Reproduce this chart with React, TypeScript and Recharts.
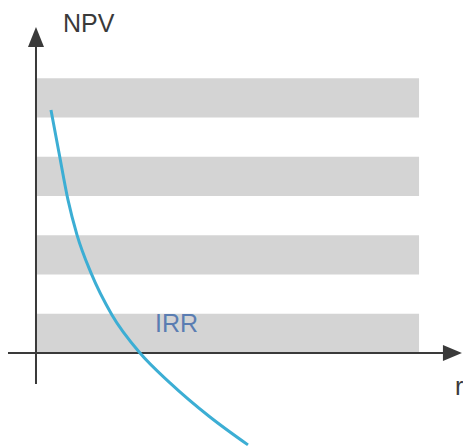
import { LineChart, Line, XAxis, YAxis, ReferenceArea, ReferenceLine, ReferenceDot } from "recharts";

// discount rate r (%) and NPV
const rates = [1.4, 2.15, 2.99, 3.83, 5.14, 7.1, 9.72, 12.52, 16.26, 19.81];
const npvs = [6.19, 5.1, 3.9, 3.01, 2.04, 0.97, 0, -0.76, -1.63, -2.34];

// grey bands behind the curve
const bands = [
  [0, 1],
  [2, 3],
  [4, 5],
  [6, 7],
];

const data = rates.map((r, i) => ({ r, npv: npvs[i] }));

const FONT = "'Liberation Sans', Arial, sans-serif";

const upArrow = ({ cx, cy }: any) => (
  <polygon points={`${cx},${cy} ${cx - 8},${cy + 20} ${cx + 8},${cy + 20}`} fill="#3a3a3a" />
);

const rightArrow = ({ cx, cy }: any) => (
  <polygon points={`${cx},${cy} ${cx - 19},${cy - 8} ${cx - 19},${cy + 8}`} fill="#3a3a3a" />
);

const textShape = (txt: string, color: string) => ({ cx, cy }: any) => (
  <text x={cx} y={cy} fill={color} fontSize={25} fontFamily={FONT}>
    {txt}
  </text>
);

export default function App() {
  return (
    <div style={{ position: "absolute", left: 0, top: 0, background: "#fff" }}>
      <LineChart width={463} height={448} data={data} margin={{ top: 0, right: 0, bottom: 0, left: 0 }}>
        <XAxis type="number" dataKey="r" domain={[-3.364, 39.907]} allowDataOverflow hide />
        <YAxis type="number" domain={[-2.42, 8.994]} allowDataOverflow hide />
        {bands.map(([a, b], i) => (
          <ReferenceArea key={i} x1={0} x2={35.8} y1={a} y2={b} fill="#d4d4d4" fillOpacity={1} stroke="none" />
        ))}
        <ReferenceLine segment={[{ x: 0, y: -0.79 }, { x: 0, y: 7.9 }]} stroke="#3a3a3a" strokeWidth={2} />
        <ReferenceLine segment={[{ x: -2.617, y: 0 }, { x: 38.4, y: 0 }]} stroke="#3a3a3a" strokeWidth={2} />
        <ReferenceDot x={0} y={8.306} shape={upArrow} />
        <ReferenceDot x={39.81} y={0} shape={rightArrow} />
        <Line
          type="monotone"
          dataKey="npv"
          stroke="#3caed4"
          strokeWidth={3}
          dot={false}
          activeDot={false}
          isAnimationActive={false}
        />
        <ReferenceDot x={2.523} y={8.178} shape={textShape("NPV", "#3a3a3a")} />
        <ReferenceDot x={11.12} y={0.535} shape={textShape("IRR", "#5a7db2")} />
        <ReferenceDot x={39.16} y={-1.07} shape={textShape("r", "#3a3a3a")} />
      </LineChart>
    </div>
  );
}
